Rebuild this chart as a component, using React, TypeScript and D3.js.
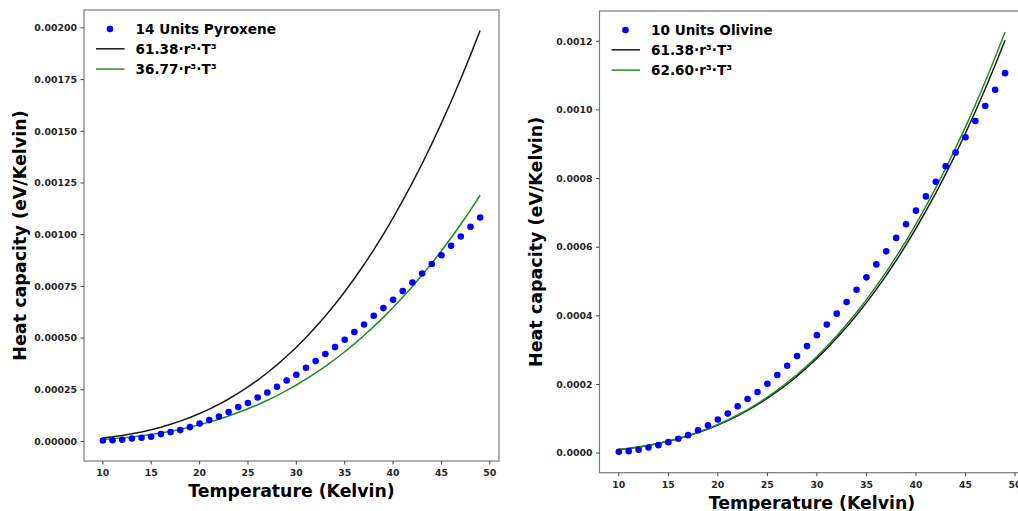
import React from "react";
import * as d3 from "d3";

const temps = [10, 11, 12, 13, 14, 15, 16, 17, 18, 19, 20, 21, 22, 23, 24, 25, 26, 27, 28, 29, 30, 31, 32, 33, 34, 35, 36, 37, 38, 39, 40, 41, 42, 43, 44, 45, 46, 47, 48, 49];

const pyroxene = [
  0.0000048, 0.0000060, 0.0000082, 0.0000145, 0.0000179, 0.0000227, 0.0000358, 0.0000455, 0.0000551, 0.0000696,
  0.0000870, 0.0001035, 0.0001209, 0.0001422, 0.0001664, 0.0001857, 0.0002128, 0.0002370, 0.0002645, 0.0002950,
  0.0003226, 0.0003564, 0.0003888, 0.0004227, 0.0004565, 0.0004918, 0.0005291, 0.0005658, 0.0006079, 0.0006451,
  0.0006853, 0.0007273, 0.0007689, 0.0008124, 0.0008579, 0.0009005, 0.0009464, 0.0009914, 0.0010383, 0.0010833,
];

const olivine = [
  0.0000041, 0.0000058, 0.0000099, 0.0000165, 0.0000232, 0.0000319, 0.0000418, 0.0000523, 0.0000668, 0.0000813,
  0.0000978, 0.0001152, 0.0001364, 0.0001579, 0.0001782, 0.0002023, 0.0002276, 0.0002546, 0.0002827, 0.0003118,
  0.0003437, 0.0003745, 0.0004064, 0.0004404, 0.0004761, 0.0005121, 0.0005498, 0.0005878, 0.0006270, 0.0006668,
  0.0007065, 0.0007480, 0.0007907, 0.0008360, 0.0008758, 0.0009202, 0.0009678, 0.0010113, 0.0010586, 0.0011071,
];

// Fit coefficients (legend: coef·r³·T³) and r³ scale of each panel
const leftCoefs = [61.38, 36.77];
const rightCoefs = [61.38, 62.6];
const leftR3 = 2.752e-10;
const rightR3 = 1.666e-10;

const xTicks = [10, 15, 20, 25, 30, 35, 40, 45, 50];
const leftYTicks = [0, 0.00025, 0.0005, 0.00075, 0.001, 0.00125, 0.0015, 0.00175, 0.002];
const rightYTicks = [0, 0.0002, 0.0004, 0.0006, 0.0008, 0.001, 0.0012];

const leftLegend = ["14 Units Pyroxene", "61.38·r³·T³", "36.77·r³·T³"];
const rightLegend = ["10 Units Olivine", "61.38·r³·T³", "62.60·r³·T³"];

const FONT = "DejaVu Sans, sans-serif";
const lineColors = ["#1a1a1a", "#1f8c1f"];

type PanelProps = {
  x0: number; x1: number; y0: number; y1: number;
  dots: number[]; coefs: number[]; r3: number; yTicks: number[]; decimals: number;
  legend: string[];
};

function Panel({ x0, x1, y0, y1, dots, coefs, r3, yTicks, decimals, legend }: PanelProps) {
  const fits = coefs.map((c) => temps.map((t) => c * r3 * t * t * t));
  const all = [...dots, ...fits.flat()];
  const mn = d3.min(all) as number;
  const mx = d3.max(all) as number;
  const pad = (mx - mn) * 0.05;
  const tPad = (d3.max(temps)! - d3.min(temps)!) * 0.05;
  const x = d3.scaleLinear().domain([d3.min(temps)! - tPad, d3.max(temps)! + tPad]).range([x0, x1]);
  const y = d3.scaleLinear().domain([mn - pad, mx + pad]).range([y1, y0]);
  const line = d3.line<number>().x((_, i) => x(temps[i])).y((d) => y(d));
  const fmt = d3.format(`.${decimals}f`);
  const cx = (x0 + x1) / 2;
  const cy = (y0 + y1) / 2;
  const lx = x0 + 12;
  const ly = y0 + 19;
  return (
    <g>
      <defs>
        <clipPath id={`clip${x0}`}>
          <rect x={x0} y={y0} width={x1 - x0} height={y1 - y0} />
        </clipPath>
      </defs>
      <g clipPath={`url(#clip${x0})`}>
        {fits.map((f, k) => (
          <path key={k} d={line(f) || ""} fill="none" stroke={lineColors[k]} strokeWidth={1.5} />
        ))}
        {dots.map((d, i) => (
          <circle key={i} cx={x(temps[i])} cy={y(d)} r={3.3} fill="#0000ff" />
        ))}
      </g>
      <rect x={x0} y={y0} width={x1 - x0} height={y1 - y0} fill="none" stroke="#7a7a7a" strokeWidth={1.2} />
      {yTicks.map((t) => (
        <g key={t}>
          <line x1={x0 - 3.5} x2={x0} y1={y(t)} y2={y(t)} stroke="#444" strokeWidth={1} />
          <text x={x0 - 7} y={y(t)} dy="0.35em" textAnchor="end" fontFamily={FONT} fontWeight="bold" fontSize={9.4} fill="#262626">
            {fmt(t)}
          </text>
        </g>
      ))}
      {xTicks.map((t) => (
        <g key={t}>
          <line x1={x(t)} x2={x(t)} y1={y1} y2={y1 + 3.5} stroke="#444" strokeWidth={1} />
          <text x={x(t)} y={y1 + 15} textAnchor="middle" fontFamily={FONT} fontWeight="bold" fontSize={9.4} fill="#262626">
            {t}
          </text>
        </g>
      ))}
      <text x={cx} y={y1 + 36} textAnchor="middle" fontFamily={FONT} fontWeight="bold" fontSize={17.3} fill="#000">
        Temperature (Kelvin)
      </text>
      <text transform={`translate(${x0 - 58},${cy}) rotate(-90)`} textAnchor="middle" fontFamily={FONT} fontWeight="bold" fontSize={17.5} fill="#000">
        Heat capacity (eV/Kelvin)
      </text>
      {/* legend */}
      <circle cx={lx + 14} cy={ly} r={3.3} fill="#0000ff" />
      {[0, 1].map((k) => (
        <line key={k} x1={lx} x2={lx + 28.5} y1={ly + 20.3 * (k + 1) - 0.5} y2={ly + 20.3 * (k + 1) - 0.5} stroke={lineColors[k]} strokeWidth={1.5} />
      ))}
      {legend.map((s, k) => (
        <text key={s + k} x={lx + 39.5} y={ly + 20.3 * k + 4.7} fontFamily={FONT} fontWeight="bold" fontSize={13.6} fill="#000">
          {s}
        </text>
      ))}
    </g>
  );
}

export default function App() {
  return (
    <svg width={1018} height={511} style={{ position: "absolute", left: 0, top: 0, background: "#fff" }}>
      <rect width={1018} height={511} fill="#fff" />
      <Panel x0={84} x1={499} y0={10} y1={461} dots={pyroxene} coefs={leftCoefs} r3={leftR3} yTicks={leftYTicks} decimals={5} legend={leftLegend} />
      <Panel x0={599.5} x1={1024.4} y0={11} y1={472.7} dots={olivine} coefs={rightCoefs} r3={rightR3} yTicks={rightYTicks} decimals={4} legend={rightLegend} />
    </svg>
  );
}
